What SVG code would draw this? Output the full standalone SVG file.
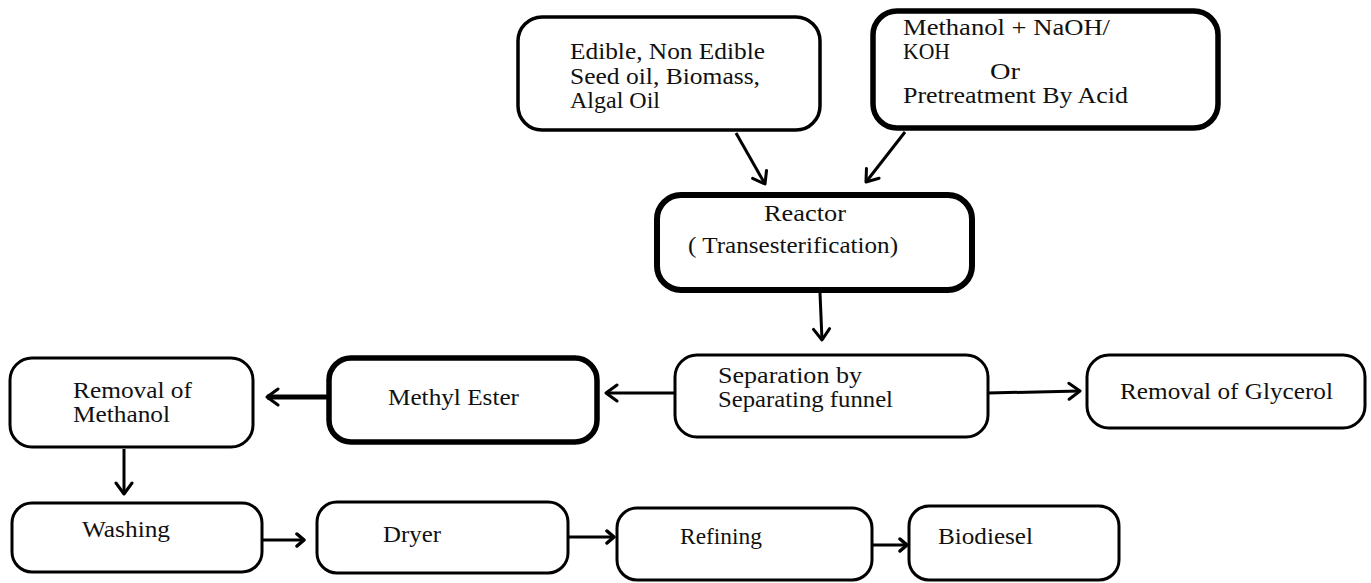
<svg xmlns="http://www.w3.org/2000/svg" width="1371" height="583" viewBox="0 0 1371 583">
<defs>
<style>
.box{fill:#fff;stroke:#000;stroke-width:3}
.thick{stroke-width:5.5}
.txt{font-family:"Liberation Serif","Times New Roman",serif;font-size:23px;fill:#111}
.conn{stroke:#000;stroke-width:3;fill:none}
</style>
<marker id="ah" viewBox="-14 -10 16 20" refX="0" refY="0" markerWidth="16" markerHeight="20" markerUnits="userSpaceOnUse" orient="auto">
<path d="M-11,-8 L0,0 L-11,8" fill="none" stroke="#000" stroke-width="3" stroke-linecap="round" stroke-linejoin="round"/>
</marker>
<marker id="ahs" viewBox="-10 -8 12 16" refX="0" refY="0" markerWidth="12" markerHeight="16" markerUnits="userSpaceOnUse" orient="auto">
<path d="M-7,-6 L0,0 L-7,6" fill="none" stroke="#000" stroke-width="3.5" stroke-linecap="round" stroke-linejoin="round"/>
</marker>
</defs>
<rect width="1371" height="583" fill="#fff"/>
<g id="connectors">
<line class="conn" x1="736" y1="133" x2="765" y2="184" marker-end="url(#ah)"/>
<line class="conn" x1="905" y1="132" x2="866" y2="182" marker-end="url(#ah)"/>
<line class="conn" x1="820" y1="293" x2="822" y2="340" marker-end="url(#ah)"/>
<line class="conn" x1="675" y1="393" x2="606" y2="393" marker-end="url(#ah)"/>
<line class="conn" x1="988" y1="393" x2="1080" y2="391" marker-end="url(#ah)"/>
<line class="conn" style="stroke-width:5" x1="329" y1="397" x2="267" y2="397" marker-end="url(#ah)"/>
<line class="conn" x1="124" y1="449" x2="124" y2="494" marker-end="url(#ah)"/>
<line class="conn" x1="262" y1="540" x2="304" y2="540" marker-end="url(#ahs)"/>
<line class="conn" x1="568" y1="537" x2="614" y2="537" marker-end="url(#ahs)"/>
<line class="conn" x1="872" y1="545" x2="907" y2="545" marker-end="url(#ahs)"/>
</g>
<g id="n-feed">
<rect class="box" style="stroke-width:3.5" x="518" y="17" width="302" height="113" rx="24"/>
<text class="txt" x="570" y="59" textLength="195" lengthAdjust="spacingAndGlyphs">Edible, Non Edible</text>
<text class="txt" x="570" y="84" textLength="190" lengthAdjust="spacingAndGlyphs">Seed oil, Biomass,</text>
<text class="txt" x="570" y="108" textLength="90" lengthAdjust="spacingAndGlyphs">Algal Oil</text>
</g>
<g id="n-catalyst">
<rect class="box thick" x="873" y="11" width="345" height="117" rx="24"/>
<text class="txt" x="903" y="35" textLength="207" lengthAdjust="spacingAndGlyphs">Methanol + NaOH/</text>
<text class="txt" x="903" y="59" textLength="47" lengthAdjust="spacingAndGlyphs">KOH</text>
<text class="txt" x="990" y="79" textLength="30" lengthAdjust="spacingAndGlyphs">Or</text>
<text class="txt" x="903" y="103" textLength="225" lengthAdjust="spacingAndGlyphs">Pretreatment By Acid</text>
</g>
<g id="n-reactor">
<rect class="box" style="stroke-width:6" x="657" y="195" width="315" height="95" rx="24"/>
<text class="txt" x="764" y="221" textLength="82" lengthAdjust="spacingAndGlyphs">Reactor</text>
<text class="txt" x="688" y="253" textLength="210" lengthAdjust="spacingAndGlyphs">( Transesterification)</text>
</g>
<g id="n-separation">
<rect class="box" x="675" y="355" width="313" height="82" rx="22"/>
<text class="txt" x="718" y="383" textLength="144" lengthAdjust="spacingAndGlyphs">Separation by</text>
<text class="txt" x="718" y="407" textLength="175" lengthAdjust="spacingAndGlyphs">Separating funnel</text>
</g>
<g id="n-glycerol">
<rect class="box" x="1087" y="355" width="278" height="73" rx="22"/>
<text class="txt" x="1120" y="399" textLength="213" lengthAdjust="spacingAndGlyphs">Removal of Glycerol</text>
</g>
<g id="n-ester">
<rect class="box thick" x="329" y="358" width="268" height="84" rx="22"/>
<text class="txt" x="388" y="405" textLength="131" lengthAdjust="spacingAndGlyphs">Methyl Ester</text>
</g>
<g id="n-methanol-removal">
<rect class="box" x="10" y="358" width="243" height="89" rx="22"/>
<text class="txt" x="73" y="398" textLength="119" lengthAdjust="spacingAndGlyphs">Removal of</text>
<text class="txt" x="73" y="422" textLength="97" lengthAdjust="spacingAndGlyphs">Methanol</text>
</g>
<g id="n-washing">
<rect class="box" x="12" y="503" width="250" height="69" rx="20"/>
<text class="txt" x="82" y="537" textLength="88" lengthAdjust="spacingAndGlyphs">Washing</text>
</g>
<g id="n-dryer">
<rect class="box" x="317" y="502" width="251" height="71" rx="20"/>
<text class="txt" x="383" y="542" textLength="58" lengthAdjust="spacingAndGlyphs">Dryer</text>
</g>
<g id="n-refining">
<rect class="box" x="617" y="508" width="255" height="72" rx="20"/>
<text class="txt" x="680" y="544" textLength="82" lengthAdjust="spacingAndGlyphs">Refining</text>
</g>
<g id="n-biodiesel">
<rect class="box" x="909" y="506" width="210" height="74" rx="20"/>
<text class="txt" x="938" y="544" textLength="95" lengthAdjust="spacingAndGlyphs">Biodiesel</text>
</g>
</svg>
